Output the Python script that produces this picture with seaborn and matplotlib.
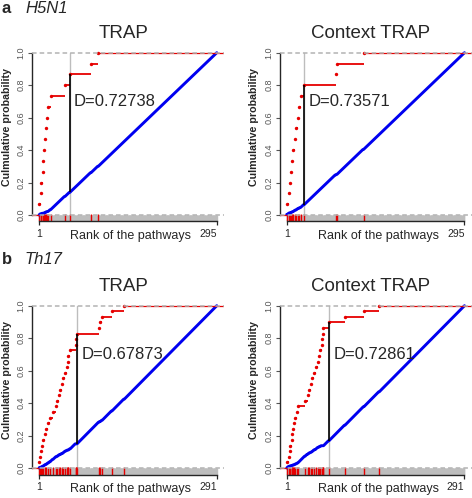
import numpy as np
import matplotlib
matplotlib.use("Agg")
import matplotlib.pyplot as plt
import seaborn as sns

# ---------------- data ----------------
h5n1_n = 295
h5n1_trap_ranks = [1, 4, 5, 7, 8, 9, 11, 13, 15, 16, 20, 44, 52, 87, 99]
h5n1_ctx_ranks = [2, 5, 7, 8, 10, 12, 15, 17, 20, 22, 24, 30, 82, 84, 128]
th17_n = 291
th17_trap_ranks = [1, 3, 4, 6, 8, 11, 13, 16, 19, 24, 29, 31, 34, 36, 38, 40,
                   44, 46, 48, 49, 52, 61, 62, 63, 99, 101, 104, 120, 140]
th17_ctx_ranks = [1, 4, 6, 7, 9, 10, 12, 13, 15, 17, 19, 31, 35, 38, 40, 42,
                  46, 48, 52, 54, 56, 58, 59, 60, 61, 70, 96, 127, 152]
method_titles = ["TRAP", "Context TRAP"]
dataset_letters = ["a", "b"]
dataset_names = ["H5N1", "Th17"]
y_ticks = [0.0, 0.2, 0.4, 0.6, 0.8, 1.0]
x_label = "Rank of the pathways"
y_label = "Culmulative probability"

# ---------------- style ----------------
sns.set_style("ticks")
plt.rcParams["font.family"] = ["Liberation Sans", "DejaVu Sans"]

RED = "#e60000"
BLUE = "#0000f0"

W, H = 472, 498
fig = plt.figure(figsize=(W / 100, H / 100), dpi=100)

col_left = [31.9, 279.6]
col_width = 192.0
row_top = [46.2, 299.2]
ax_h = 175.3


def draw_panel(ax, ranks, n, title):
    ranks = np.array(sorted(ranks))
    k = len(ranks)
    r = np.arange(1, n + 1)
    is_t = np.isin(r, ranks)
    red_cdf = np.cumsum(is_t) / k
    blue_cdf = np.cumsum(~is_t) / (n - k)
    diff = red_cdf - blue_cdf
    i = int(np.argmax(diff))
    dstar, rstar = diff[i], r[i]

    pad = 0.04 * (n - 1)
    xmin, xmax = 1 - pad, n + pad
    ax.set_xlim(xmin, xmax)
    ax.set_ylim(-0.04, 1.04)

    # rugs
    sns.rugplot(x=r, ax=ax, height=0.037, color="#bdbdbd", lw=0.7, zorder=1)
    sns.rugplot(x=ranks, ax=ax, height=0.042, color=RED, lw=0.8, zorder=2)

    # vertical gray line at D location
    ax.axvline(rstar, ymin=0, ymax=1.04 / 1.08, color="#bdbdbd", lw=1.0, zorder=1)

    # blue: ECDF of non-target pathways
    sns.lineplot(x=r, y=blue_cdf, ax=ax, color=BLUE, lw=2.1, zorder=3)

    # red: ECDF of target pathways (step + points)
    levels = np.arange(1, k + 1) / k
    ends = np.append(ranks[1:], xmax)
    ax.hlines(levels[:-1], ranks[:-1], ends[:-1], color=RED, lw=1.3, zorder=4)
    ax.hlines(levels[-1], ranks[-1], ends[-1], color=RED, lw=0.9, zorder=4)
    ax.hlines(0, xmin, ranks[0], color=RED, lw=0.9, zorder=4)
    sns.scatterplot(x=ranks, y=levels, ax=ax, s=6, color=RED, linewidth=0,
                    zorder=4)

    # dashed reference lines
    for yv in (0, 1):
        ax.axhline(yv, color="#b3b3b3", lw=1.1, ls=(0, (3, 2)), zorder=5)

    # D segment
    ax.vlines(rstar, blue_cdf[i], red_cdf[i], color="black", lw=1.2, zorder=6)
    ax.annotate(f"D={dstar:.5f}", xy=(rstar, 0.7), xytext=(3, 0),
                textcoords="offset points", ha="left", va="center",
                fontsize=12, zorder=7)

    # axes
    for s in ("top", "right"):
        ax.spines[s].set_visible(False)
    ax.spines["left"].set_bounds(0, 1)
    ax.spines["bottom"].set_bounds(1, n)
    ax.spines["left"].set_linewidth(1.0)
    ax.spines["bottom"].set_linewidth(1.0)

    ax.set_xticks([1, n])
    ax.set_xticklabels(["1", str(n)], fontsize=7.5)
    lbls = ax.get_xticklabels()
    lbls[-1].set_ha("right")
    ax.tick_params(axis="x", length=3, width=0.9, pad=2.5)

    ax.set_yticks(y_ticks)
    ax.set_yticklabels([f"{v:.1f}" for v in y_ticks], fontsize=6.5,
                       color="#555555", rotation=90, va="center")
    ax.tick_params(axis="y", length=3, width=0.8, pad=1.5, color="#555555")

    ax.set_xlabel("")
    ax.set_ylabel("")
    ax.text(0.515, -0.083, x_label, transform=ax.transAxes, ha="center",
            va="center", fontsize=9)
    ax.text(-0.131, 0.54, y_label, transform=ax.transAxes, ha="center",
            va="center", rotation=90, fontsize=7.7, fontweight="bold")
    ax.set_title(title, fontsize=13.5, pad=6, x=0.475)


datasets = [
    (h5n1_n, [h5n1_trap_ranks, h5n1_ctx_ranks]),
    (th17_n, [th17_trap_ranks, th17_ctx_ranks]),
]

for ri, (n, rank_sets) in enumerate(datasets):
    for ci, ranks in enumerate(rank_sets):
        left = col_left[ci] / W
        bottom = 1 - (row_top[ri] + ax_h) / H
        ax = fig.add_axes([left, bottom, col_width / W, ax_h / H])
        draw_panel(ax, ranks, n, method_titles[ci])

letter_baselines = [13, 264]
for ri in range(2):
    yb = 1 - letter_baselines[ri] / H
    fig.text(2 / W, yb, dataset_letters[ri], fontsize=12, fontweight="bold",
             va="baseline", ha="left")
    fig.text(25 / W, yb, dataset_names[ri], fontsize=12, style="italic",
             va="baseline", ha="left")

fig.savefig("out.png", dpi=100)
